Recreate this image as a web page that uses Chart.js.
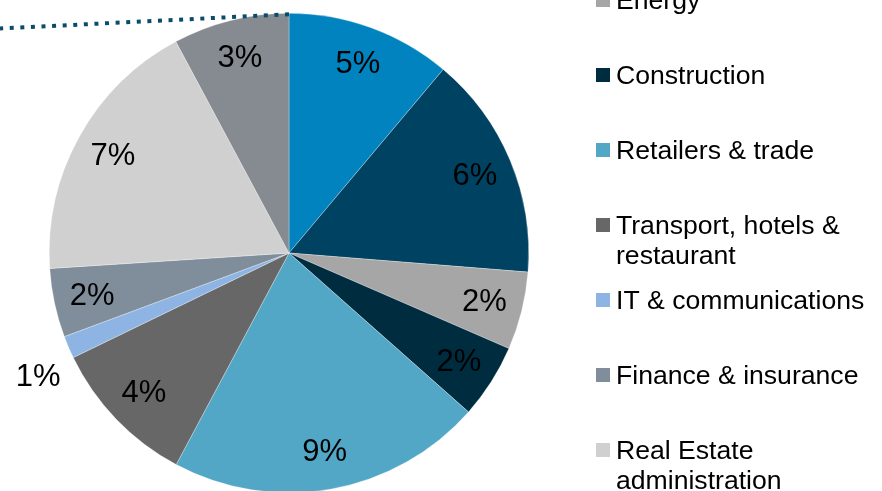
<!DOCTYPE html>
<html>
<head>
<meta charset="utf-8">
<script src="https://cdn.jsdelivr.net/npm/chart.js@4/dist/chart.umd.min.js"></script>
<style>
  html, body { margin: 0; padding: 0; background: #ffffff; overflow: hidden; }
  #wrap { position: relative; width: 882px; height: 500px; }
</style>
</head>
<body>
<div id="wrap"><canvas id="c" width="882" height="500"></canvas></div>
<script>
// ---- data ----
const categories = [
  ["Agriculture & manufacturing"],
  ["Industry"],
  ["Energy"],
  ["Construction"],
  ["Retailers & trade"],
  ["Transport, hotels &", "restaurant"],
  ["IT & communications"],
  ["Finance & insurance"],
  ["Real Estate", "administration"],
  ["Other services"]
];
const values = [4.55, 6.2, 2.15, 2.05, 8.7, 4.1, 0.62, 1.9, 7.45, 3.2];
const pctLabels = ["5%", "6%", "2%", "2%", "9%", "4%", "1%", "2%", "7%", "3%"];
const colors = ["#0083BE", "#004262", "#A6A6A6", "#002C40", "#52A7C7",
                "#666766", "#8DB4E2", "#808E9C", "#D0D0D0", "#868B91"];
// legend index of the first visible row ("Energy") sits at the top edge
const legendFirstVisible = 2;

const FONT = '"Liberation Sans", Arial, sans-serif';

const sliceLabels = {
  id: 'sliceLabels',
  afterDatasetsDraw(chart) {
    const ctx = chart.ctx;
    const meta = chart.getDatasetMeta(0);
    ctx.save();
    ctx.fillStyle = '#000000';
    ctx.font = '31px ' + FONT;
    ctx.textAlign = 'center';
    ctx.textBaseline = 'middle';
    meta.data.forEach((arc, i) => {
      const p = arc.getProps(['x', 'y', 'startAngle', 'endAngle', 'outerRadius'], true);
      let mid = (p.startAngle + p.endAngle) / 2;
      let f = 0.84;
      if (values[i] < 1) { f = 1.165; mid -= 3 * Math.PI / 180; }
      const r = p.outerRadius * f;
      ctx.fillText(pctLabels[i], p.x + Math.cos(mid) * r, p.y + Math.sin(mid) * r + 1);
    });
    ctx.restore();
  }
};

const connector = {
  id: 'connector',
  afterDatasetsDraw(chart) {
    const ctx = chart.ctx;
    const arc = chart.getDatasetMeta(0).data[0];
    const p = arc.getProps(['x', 'y', 'outerRadius'], true);
    ctx.save();
    ctx.strokeStyle = '#0B4D68';
    ctx.lineWidth = 4;
    ctx.setLineDash([4, 6.6]);
    ctx.beginPath();
    ctx.moveTo(p.x, p.y - p.outerRadius + 1);
    ctx.lineTo(0, 28.5);
    ctx.stroke();
    ctx.restore();
  }
};

const sideLegend = {
  id: 'sideLegend',
  afterDraw(chart) {
    const ctx = chart.ctx;
    ctx.save();
    ctx.font = '26.6px ' + FONT;
    ctx.textAlign = 'left';
    ctx.textBaseline = 'alphabetic';
    categories.forEach((lines, i) => {
      const cy = (i - legendFirstVisible) * 75;
      if (cy < -40 || cy > chart.height + 40) return;
      ctx.fillStyle = colors[i];
      ctx.fillRect(596, cy - 7, 14, 14);
      ctx.fillStyle = '#000000';
      lines.forEach((t, k) => ctx.fillText(t, 616, cy + 9 + k * 30));
    });
    ctx.restore();
  }
};

new Chart(document.getElementById('c'), {
  type: 'pie',
  data: {
    labels: categories.map(l => l.join(' ')),
    datasets: [{
      data: values,
      backgroundColor: colors,
      borderWidth: 0.5,
      borderColor: 'rgba(255,255,255,0.6)'
    }]
  },
  options: {
    responsive: false,
    animation: false,
    layout: { padding: { left: 49, right: 353, top: 13, bottom: 7 } },
    plugins: { legend: { display: false }, tooltip: { enabled: false } }
  },
  plugins: [connector, sliceLabels, sideLegend]
});
</script>
</body>
</html>
